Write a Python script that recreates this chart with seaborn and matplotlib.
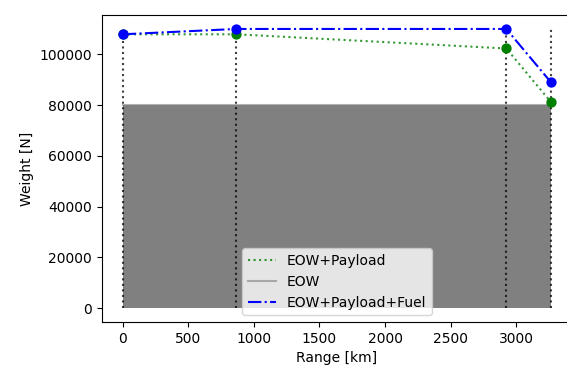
import matplotlib
matplotlib.use("Agg")
import matplotlib.pyplot as plt
import seaborn as sns
import numpy as np

range_km = [0, 865, 2925, 3267]
eow = [80000, 80000, 80000, 80000]
eow_payload = [107900, 107900, 102300, 81100]
eow_payload_fuel = [107900, 110000, 110000, 88900]
vline_top = 110000

plt.rcParams['font.family'] = ['DejaVu Sans']

fig = plt.figure(figsize=(5.67, 3.66), dpi=100)
ax = fig.add_axes([101.5 / 567, 44 / 366, 471 / 567, 307 / 366])

ax.fill_between(range_km, 0, eow, color='gray', linewidth=0, zorder=1)
ax.vlines(range_km, 0, vline_top, colors='k', linestyles=':', linewidth=1.5,
          alpha=0.75, zorder=2)

sns.lineplot(x=range_km, y=eow_payload, ax=ax, color='g', linestyle=':',
             linewidth=1.5, alpha=0.8, label='EOW+Payload', zorder=3)
sns.lineplot(x=range_km, y=eow, ax=ax, color='gray', alpha=0.6,
             linewidth=1.5, label='EOW', zorder=3)
sns.lineplot(x=range_km, y=eow_payload_fuel, ax=ax, color='b', linestyle='-.',
             linewidth=1.5, label='EOW+Payload+Fuel', zorder=3)
sns.scatterplot(x=range_km, y=eow_payload, ax=ax, color='g', s=55,
                edgecolor='g', linewidth=0, zorder=4, legend=False)
sns.scatterplot(x=range_km, y=eow_payload_fuel, ax=ax, color='b', s=55,
                edgecolor='b', linewidth=0, zorder=4, legend=False)

ax.set_xlim(-163, 3430)
ax.set_ylim(-5500, 115500)
ax.set_xticks([0, 500, 1000, 1500, 2000, 2500, 3000])
ax.set_yticks([0, 20000, 40000, 60000, 80000, 100000])
ax.set_xlabel('Range [km]')
ax.set_ylabel('Weight [N]')
ax.spines['right'].set_visible(False)
ax.legend(loc='lower center')

fig.savefig('out.png', dpi=100)
